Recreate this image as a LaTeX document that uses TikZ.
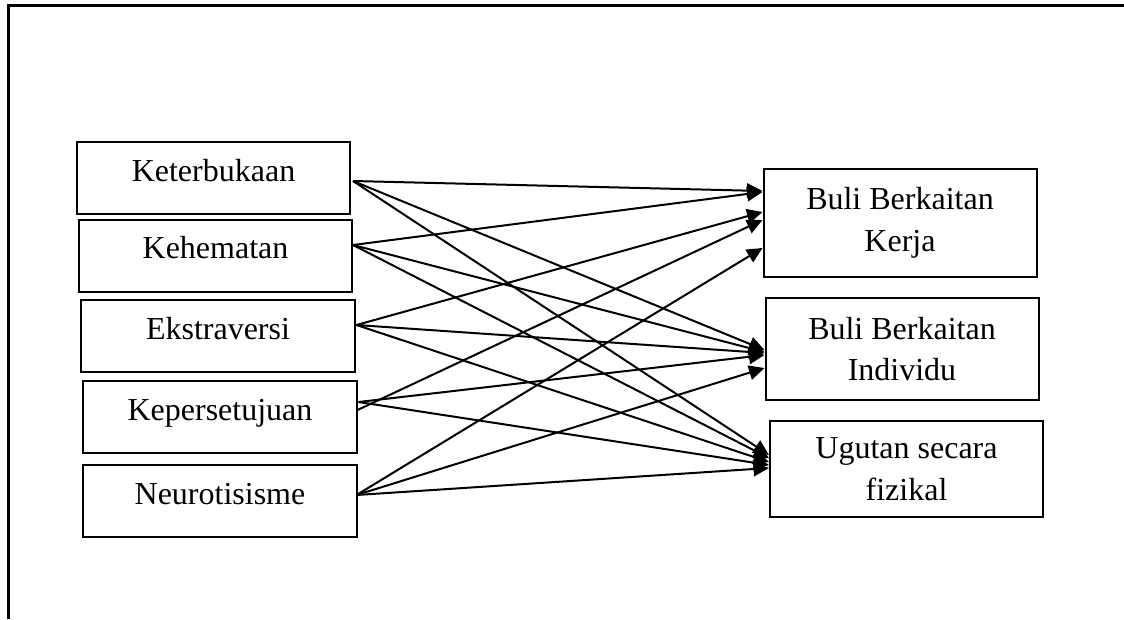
\documentclass[tikz,border=0pt]{standalone}
\usepackage{fontspec}
\setmainfont{Liberation Serif}
\usepackage{tikz}
\usetikzlibrary{arrows.meta}
\usetikzlibrary{calc}
\tikzset{
    kotak/.style = {rectangle, draw=black, line width=0.8pt, align=center, minimum width=109.2pt, minimum height=28.8pt, inner sep=0pt, text height=0.7em, text depth=0.44em},
    kotakb/.style = {rectangle, draw=black, line width=0.8pt, align=center, minimum width=109.2pt, inner sep=0pt},
}

\begin{document}
\begin{tikzpicture}[
	x=0.4pt,
	y=-0.4pt,
	font=\fontsize{12.8}{16.6}\selectfont
]
\tikzset{
    panah/.style = {-{Triangle[length=6.2pt,width=5.8pt]}, line width=0.8pt},
    bingkai/.style = {line width=1.2pt},
}
\useasboundingbox (0,0) rectangle (1124,619);
\draw[bingkai] (1124,6) -- (8,6) -- (8,619);
%
\node[kotak] at (213.5,178) (ket) {Keterbukaan};
\node[kotak] at (215.5,255.5) (keh) {Kehematan};
\node[kotak] at (218,336) (eks) {Ekstraversi};
\node[kotak] at (220,417) (kep) {Kepersetujuan};
\node[kotak] at (220,501) (neu) {Neurotisisme};
%
\node[kotakb, minimum height=43.2pt] at (900,223) (bbk) {Buli Berkaitan\\Kerja};
\node[kotakb, minimum height=40.8pt] at (902,349) (bbi) {Buli Berkaitan\\Individu};
\node[kotakb, minimum height=38.4pt] at (906.5,469) (ugu) {Ugutan secara\\fizikal};
%
\draw[panah] ($(ket.east)+(2,3)$) -- ($(bbk.west)+(0,-32)$);
\draw[panah] ($(ket.east)+(2,3)$) -- ($(bbi.west)+(0,1)$);
\draw[panah] ($(ket.east)+(2,3)$) -- ($(ugu.west)+(0,-14)$);
%
\draw[panah] ($(keh.east)+(0,-10.5)$) -- ($(bbk.west)+(0,-31)$);
\draw[panah] ($(keh.east)+(0,-10.5)$) -- ($(bbi.west)+(0,3)$);
\draw[panah] ($(keh.east)+(0,-10.5)$) -- ($(ugu.west)+(0,-11)$);
%
\draw[panah] ($(eks.east)+(1,-11)$) -- ($(bbk.west)+(0,-11)$);
\draw[panah] ($(eks.east)+(1,-11)$) -- ($(bbi.west)+(0,4)$);
\draw[panah] ($(eks.east)+(1,-11)$) -- ($(ugu.west)+(0,-7)$);
%
\draw[panah] ($(kep.east)+(0,-7)$) -- ($(bbk.west)+(0,-3)$);
\draw[panah] ($(kep.east)+(1,-15)$) -- ($(bbi.west)+(0,6)$);
\draw[panah] ($(kep.east)+(1,-15)$) -- ($(ugu.west)+(0,-4)$);
%
\draw[panah] ($(neu.east)+(-1,-6)$) -- ($(bbk.west)+(0,25)$);
\draw[panah] ($(neu.east)+(-1,-6)$) -- ($(bbi.west)+(0,19)$);
\draw[panah] ($(neu.east)+(-1,-6)$) -- ($(ugu.west)+(0,-1)$);
\end{tikzpicture}
\end{document}
